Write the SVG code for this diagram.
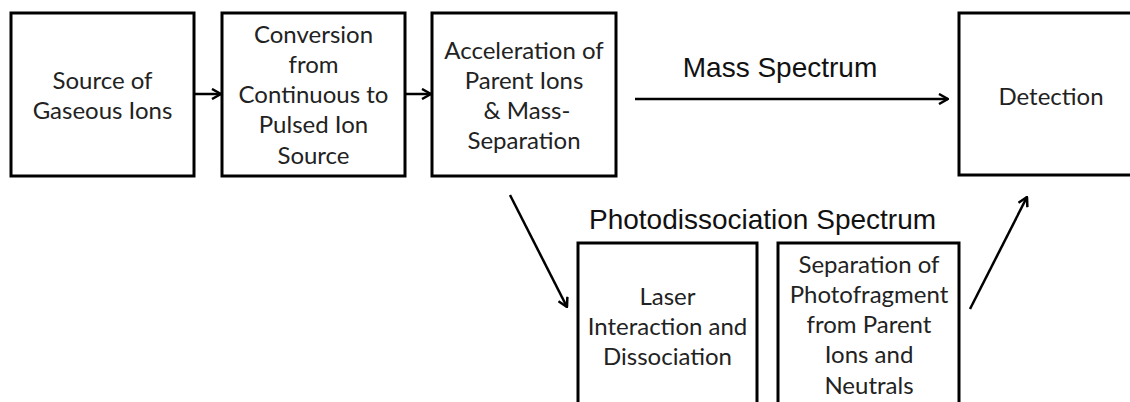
<svg xmlns="http://www.w3.org/2000/svg" width="1130" height="402" viewBox="0 0 1130 402">
  <style>
    .box { fill: #ffffff; stroke: #000000; stroke-width: 3; }
    .lbl { font-family: Lato, "Liberation Sans", sans-serif; font-size: 24px; fill: #222222; text-anchor: middle; }
    .big { font-family: "Liberation Sans", Arial, sans-serif; font-size: 28px; fill: #111111; text-anchor: middle; }
    .conn { stroke: #000000; stroke-width: 2.5; fill: none; }
  </style>
  <defs>
    <marker id="arr" viewBox="0 0 12 12" refX="11" refY="6" markerWidth="12" markerHeight="12" markerUnits="userSpaceOnUse" orient="auto">
      <path d="M2,1 L11,6 L2,11" fill="none" stroke="#000" stroke-width="2.5" stroke-linejoin="miter"/>
    </marker>
  </defs>
  <rect width="1130" height="402" fill="#ffffff"/>

  <g id="n-source">
    <rect class="box" x="11" y="13" width="183" height="163"/>
    <text class="lbl" x="102.5" y="89">Source of</text>
    <text class="lbl" x="102.5" y="119">Gaseous Ions</text>
  </g>
  <g id="n-conversion">
    <rect class="box" x="222" y="13" width="183" height="163"/>
    <text class="lbl" x="313.5" y="43">Conversion</text>
    <text class="lbl" x="313.5" y="73">from</text>
    <text class="lbl" x="313.5" y="103">Continuous to</text>
    <text class="lbl" x="313.5" y="133">Pulsed Ion</text>
    <text class="lbl" x="313.5" y="164">Source</text>
  </g>
  <g id="n-acceleration">
    <rect class="box" x="432" y="13" width="184" height="163"/>
    <text class="lbl" x="524" y="59">Acceleration of</text>
    <text class="lbl" x="524" y="89">Parent Ions</text>
    <text class="lbl" x="527" y="119">&amp; Mass-</text>
    <text class="lbl" x="524" y="149">Separation</text>
  </g>
  <g id="n-detection">
    <rect class="box" x="959" y="13" width="180" height="162"/>
    <text class="lbl" x="1051" y="105">Detection</text>
  </g>
  <g id="n-laser">
    <rect class="box" x="578" y="243" width="179" height="170"/>
    <text class="lbl" x="667.5" y="305">Laser</text>
    <text class="lbl" x="667.5" y="335">Interaction and</text>
    <text class="lbl" x="667.5" y="365">Dissociation</text>
  </g>
  <g id="n-separation">
    <rect class="box" x="778" y="243" width="181" height="170"/>
    <text class="lbl" x="869" y="273">Separation of</text>
    <text class="lbl" x="869" y="303">Photofragment</text>
    <text class="lbl" x="869" y="333">from Parent</text>
    <text class="lbl" x="869" y="363">Ions and</text>
    <text class="lbl" x="869" y="394">Neutrals</text>
  </g>

  <g id="connectors">
    <line class="conn" x1="194" y1="94" x2="221" y2="94" marker-end="url(#arr)"/>
    <line class="conn" x1="405" y1="94" x2="431" y2="94" marker-end="url(#arr)"/>
    <line class="conn" x1="635" y1="99" x2="948" y2="99" marker-end="url(#arr)"/>
    <line class="conn" x1="510" y1="195" x2="567" y2="307" marker-end="url(#arr)"/>
    <line class="conn" x1="970" y1="309" x2="1027" y2="197" marker-end="url(#arr)"/>
  </g>

  <g id="labels">
    <text class="big" x="780" y="77">Mass Spectrum</text>
    <text class="big" x="762.5" y="229">Photodissociation Spectrum</text>
  </g>
</svg>
